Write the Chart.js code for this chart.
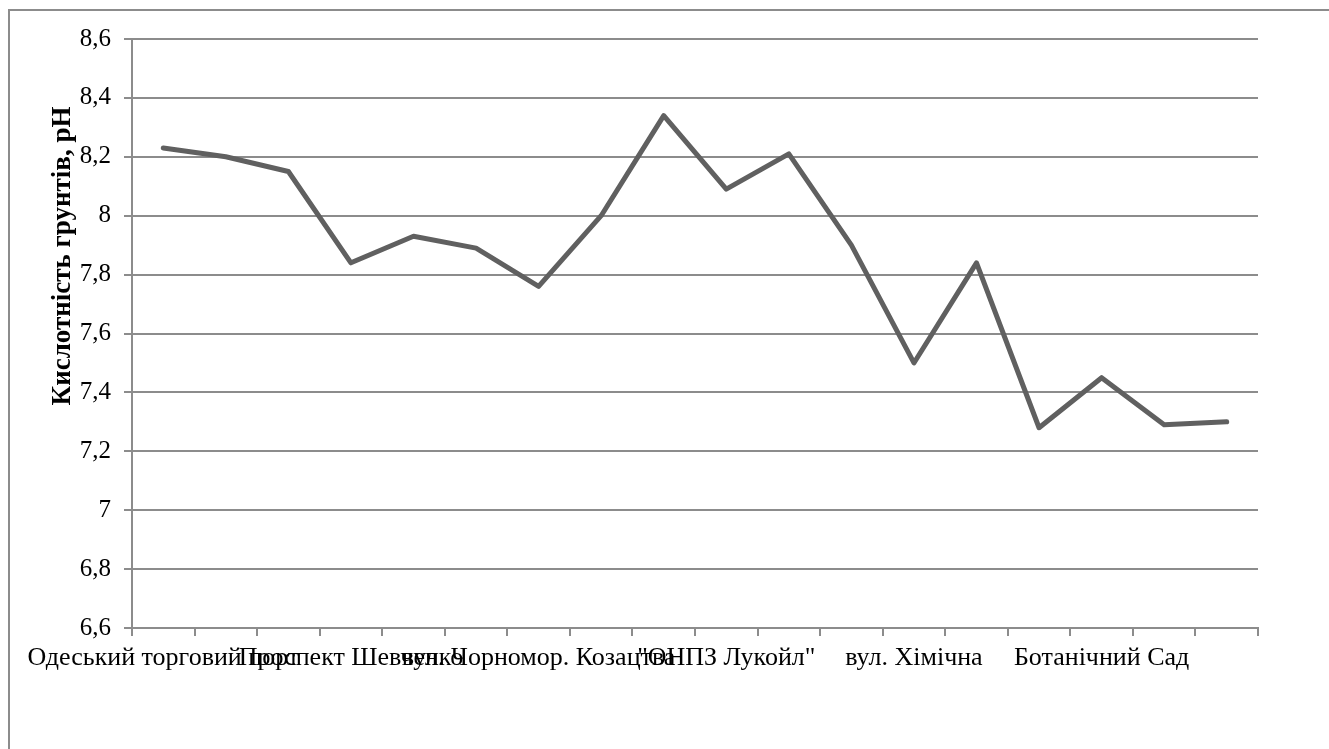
<!DOCTYPE html>
<html>
<head>
<meta charset="utf-8">
<script src="https://cdn.jsdelivr.net/npm/chart.js@4"></script>
<style>
  body { margin: 0; background: #fff; }
  #wrap { position: relative; width: 1329px; height: 749px; overflow: hidden; }
  #ramka { position: absolute; left: 8px; top: 9px; width: 1400px; height: 800px;
           border-top: 2px solid #8c8c8c; border-left: 2px solid #8c8c8c; }
  #grafik { position: absolute; left: 0; top: 0; }
</style>
</head>
<body>
<div id="wrap">
  <div id="ramka"></div>
  <canvas id="grafik" width="1329" height="749"></canvas>
</div>
<script>
// точки відбору проб (підписано кожну третю)
const punkty = [
    "Одеський торговий порт", "", "",
    "Проспект Шевченко", "", "",
    "вул. Чорномор. Козацтва", "", "",
    "\"ОНПЗ Лукойл\"", "", "",
    "вул. Хімічна", "", "",
    "Ботанічний Сад", "", ""
]
// кислотність грунтів, pH
const znachennyaPH = [8.23, 8.20, 8.15, 7.84, 7.93, 7.89, 7.76, 8.00, 8.34,
                      8.09, 8.21, 7.90, 7.50, 7.84, 7.28, 7.45, 7.29, 7.30]
const osMin = 6.6
const osMax = 8.6
const osKrok = 0.2
const nazvaOsi = "Кислотність грунтів, pH"

const shryft = "'Liberation Serif', 'Times New Roman', serif"
const siryi = "#8c8c8c"

// підпис осі Y малюємо окремо, трохи вище центру
const pidpysOsi = {
    id: 'pidpysOsi',
    afterDraw(chart) {
        const ctx = chart.ctx
        ctx.save()
        ctx.translate(63, 256)
        ctx.rotate(-Math.PI / 2)
        ctx.font = "bold 27px " + shryft
        ctx.fillStyle = "#000"
        ctx.textAlign = "center"
        ctx.textBaseline = "middle"
        ctx.fillText(nazvaOsi, 0, 0)
        ctx.restore()
    }
}

const grafik = new Chart(document.getElementById('grafik'), {
    type: 'line',
    data: {
        labels: punkty,
        datasets: [{
            data: znachennyaPH,
            borderColor: '#606060',
            borderWidth: 5,
            borderCapStyle: 'round',
            borderJoinStyle: 'round',
            pointRadius: 0,
            tension: 0
        }]
    },
    options: {
        responsive: false,
        animation: false,
        layout: { padding: { left: 0, top: 39, right: 71, bottom: 0 } },
        plugins: {
            legend: { display: false },
            tooltip: { enabled: false }
        },
        scales: {
            x: {
                offset: true,
                afterFit: (s) => { s.height = 121 },
                border: { color: siryi, width: 2 },
                grid: { offset: true, drawOnChartArea: false, color: siryi, lineWidth: 2, tickLength: 8 },
                ticks: {
                    autoSkip: false, maxRotation: 0, minRotation: 0,
                    color: '#000', padding: 7,
                    font: { family: shryft, size: 26 }
                }
            },
            y: {
                min: osMin,
                max: osMax,
                afterFit: (s) => { s.width = 132 },
                border: { color: siryi, width: 2 },
                grid: { color: siryi, lineWidth: 2, tickLength: 8 },
                ticks: {
                    stepSize: osKrok,
                    color: '#000', padding: 13,
                    font: { family: shryft, size: 25 },
                    callback: (v) => String(Number(v.toFixed(1))).replace('.', ',')
                }
            }
        }
    },
    plugins: [pidpysOsi]
})
</script>
</body>
</html>
